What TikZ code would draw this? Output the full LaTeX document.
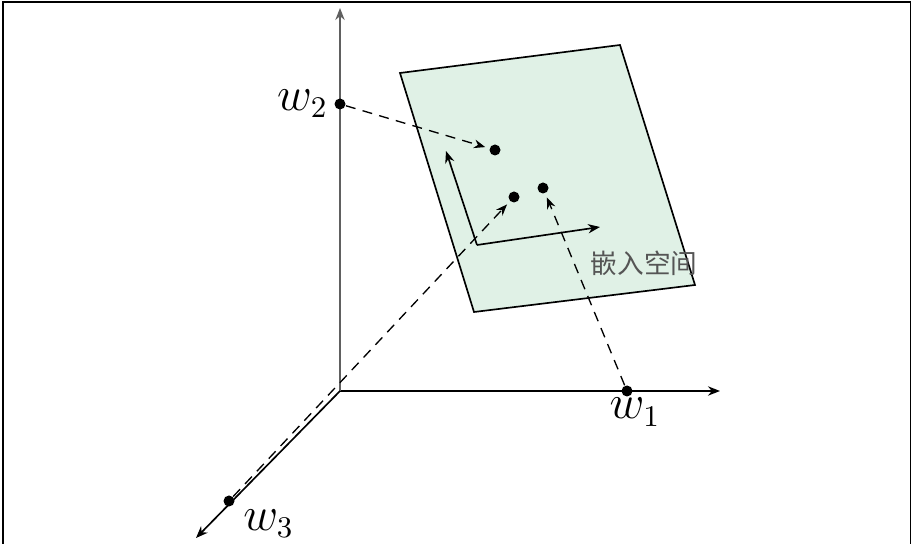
\documentclass[tikz,border=0pt]{standalone}
\usepackage{fontspec}
\newfontfamily\cjk{Noto Sans CJK SC}
\usepackage{tikz}
\usepackage{xcolor}
\usetikzlibrary{positioning, arrows.meta, calc}
\definecolor{cPlane}{HTML}{E0F1E6}
\definecolor{cAxisY}{HTML}{606060}
\definecolor{cLabel}{HTML}{555555}

\tikzset{
  dotnode/.style={circle, fill=black, inner sep=0pt, minimum size=3.3pt},
  axisline/.style={-{Stealth[length=3.6pt, width=2.8pt]}, line width=0.5pt},
  proj/.style={-{Stealth[length=3.4pt, width=2.6pt]}, dash pattern=on 3pt off 2.2pt,
    line width=0.4pt, shorten >=1.2pt},
  wlabel/.style={font=\fontsize{13.5}{16}\selectfont, inner sep=1pt},
}

\begin{document}
\begin{tikzpicture}[x=0.3pt, y=-0.3pt]
        \useasboundingbox (0, 0) rectangle (913, 544);
        % frame
        \draw[line width=0.5pt] (3, 544) -- (3, 2) -- (910.5, 2) -- (910.5, 544);
        % axes
        \coordinate (O) at (340, 391);
        \coordinate (xend) at (720, 391);
        \coordinate (yend) at (340, 8);
        \coordinate (zend) at (196, 538);
        \draw[axisline] (O) -- (xend);
        \draw[axisline, draw=cAxisY] (O) -- (yend);
        \draw[axisline] (O) -- (zend);
        % embedding plane
        \filldraw[fill=cPlane, draw=black, line width=0.5pt]
              (400, 73) -- (620, 45) -- (695, 285) -- (474, 312) -- cycle;
        \coordinate (po) at (477, 245);
        \draw[axisline] (po) -- (446, 151);
        \draw[axisline] (po) -- (600, 227);
        \node[font=\cjk\footnotesize, text=cLabel] (emb) at (644, 263) {嵌入空间};
        % points
        \node[dotnode] (w1) at (627, 391) {};
        \node[dotnode] (w2) at (340, 104) {};
        \node[dotnode] (w3) at (229, 501) {};
        \node[dotnode] (p1) at (543, 188) {};
        \node[dotnode] (p2) at (495, 150) {};
        \node[dotnode] (p3) at (514, 197) {};
        \node[wlabel, anchor=north] at ($(w1.south)+(8, -3)$) {$w_1$};
        \node[wlabel, anchor=east] at ($(w2.west)+(-2, 0)$) {$w_2$};
        \node[wlabel, anchor=north west] at ($(w3.south east)+(6, 0)$) {$w_3$};
        % projections
        \draw[proj] (w2) -- (p2);
        \draw[proj] (w3) -- (p3);
        \draw[proj] (w1) -- (p1);
      \end{tikzpicture}
\end{document}
